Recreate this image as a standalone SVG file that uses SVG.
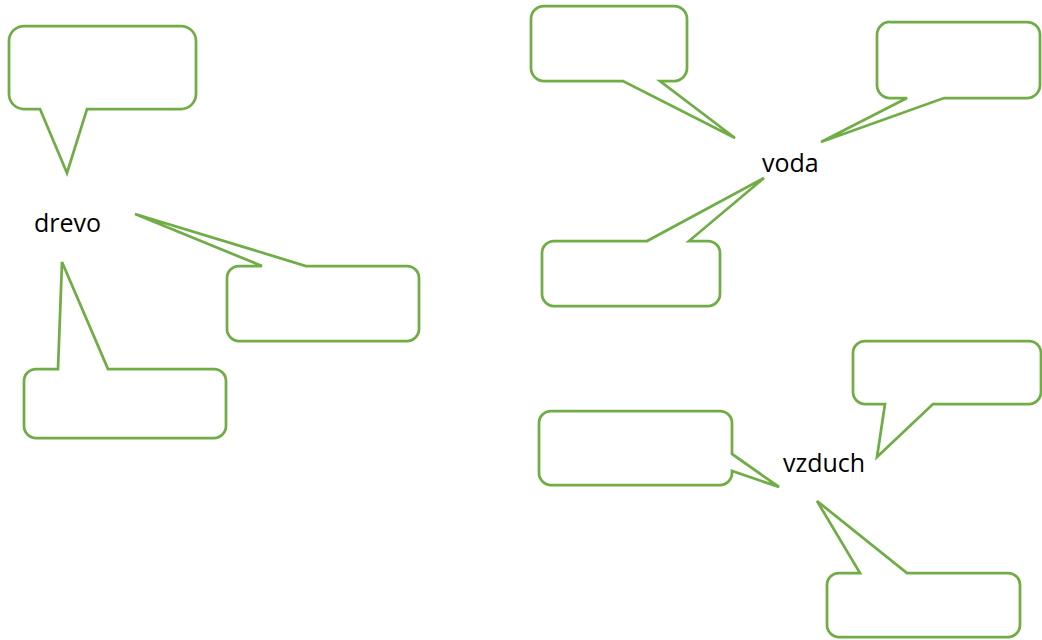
<svg xmlns="http://www.w3.org/2000/svg" width="1042" height="640" viewBox="0 0 1042 640">
<style>
.callout{fill:#ffffff;stroke:#70AD47;stroke-width:2.75;stroke-linejoin:miter}
.label{font-family:"Open Sans","Liberation Sans",sans-serif;font-size:25px;fill:#000000}
</style>
<rect width="1042" height="640" fill="#ffffff"/>
<g id="callout-drevo-top"><path class="callout" d="M 24,26 H 181 A15,15 0 0 1 196,41 V 94 A15,15 0 0 1 181,109 H 87 L 67,173 L 40,109 H 24 A15,15 0 0 1 9,94 V 41 A15,15 0 0 1 24,26 Z"/></g>
<g id="callout-drevo-right"><path class="callout" d="M 239,266 H 262 L 135,214 L 306,266 H 407 A12,12 0 0 1 419,278 V 329 A12,12 0 0 1 407,341 H 239 A12,12 0 0 1 227,329 V 278 A12,12 0 0 1 239,266 Z"/></g>
<g id="callout-drevo-bottom"><path class="callout" d="M 36,369 H 58 L 62,262 L 108,369 H 214 A12,12 0 0 1 226,381 V 426 A12,12 0 0 1 214,438 H 36 A12,12 0 0 1 24,426 V 381 A12,12 0 0 1 36,369 Z"/></g>
<g id="callout-voda-topleft"><path class="callout" d="M 544,6 H 674 A13,13 0 0 1 687,19 V 68 A13,13 0 0 1 674,81 H 660 L 735,138 L 623,81 H 544 A13,13 0 0 1 531,68 V 19 A13,13 0 0 1 544,6 Z"/></g>
<g id="callout-voda-topright"><path class="callout" d="M 890,22 H 1027 A13,13 0 0 1 1040,35 V 85 A13,13 0 0 1 1027,98 H 944 L 821,142 L 907,98 H 890 A13,13 0 0 1 877,85 V 35 A13,13 0 0 1 890,22 Z"/></g>
<g id="callout-voda-bottom"><path class="callout" d="M 554,241 H 647 L 764,178 L 689,241 H 708 A12,12 0 0 1 720,253 V 294 A12,12 0 0 1 708,306 H 554 A12,12 0 0 1 542,294 V 253 A12,12 0 0 1 554,241 Z"/></g>
<g id="callout-vzduch-left"><path class="callout" d="M 551,411 H 720 A12,12 0 0 1 732,423 V 454 L 779,487 L 732,471 V 473 A12,12 0 0 1 720,485 H 551 A12,12 0 0 1 539,473 V 423 A12,12 0 0 1 551,411 Z"/></g>
<g id="callout-vzduch-topright"><path class="callout" d="M 865,341 H 1029 A12,12 0 0 1 1041,353 V 392 A12,12 0 0 1 1029,404 H 933 L 877,457 L 885,404 H 865 A12,12 0 0 1 853,392 V 353 A12,12 0 0 1 865,341 Z"/></g>
<g id="callout-vzduch-bottom"><path class="callout" d="M 839,573 H 860 L 817,501 L 907,573 H 1008 A12,12 0 0 1 1020,585 V 625 A12,12 0 0 1 1008,637 H 839 A12,12 0 0 1 827,625 V 585 A12,12 0 0 1 839,573 Z"/></g>
<g id="label-drevo"><text class="label" x="34" y="232">drevo</text></g>
<g id="label-voda"><text class="label" x="762" y="172">voda</text></g>
<g id="label-vzduch"><text class="label" x="783" y="472">vzduch</text></g>
<g id="connectors"></g>
</svg>
